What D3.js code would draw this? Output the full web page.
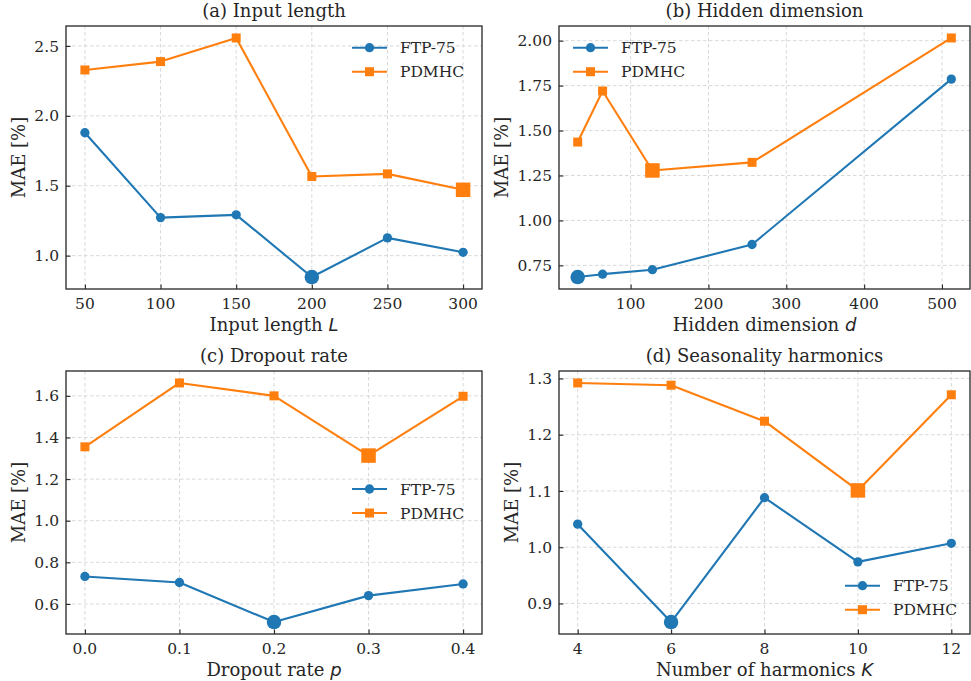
<!DOCTYPE html>
<html>
<head>
<meta charset="utf-8">
<script src="https://cdn.jsdelivr.net/npm/d3@7"></script>
<style>
  body { margin: 0; background: #fff; }
  svg { display: block; }
</style>
</head>
<body>
<div id="chart"></div>
<script>
'use strict';

// series
const seriesNames = ["FTP-75", "PDMHC"];
const seriesColors = ["#1f77b4", "#ff7f0e"];

// (a) input length
const inputLength = [50, 100, 150, 200, 250, 300];
const inputFtp = [1.879, 1.272, 1.292, 0.847, 1.127, 1.024];
const inputPdm = [2.328, 2.388, 2.557, 1.566, 1.585, 1.471];
const inputYTicks = [1.0, 1.5, 2.0, 2.5];

// (b) hidden dimension
const hiddenDim = [32, 64, 128, 256, 512];
const hiddenFtp = [0.685, 0.701, 0.726, 0.866, 1.786];
const hiddenPdm = [1.436, 1.720, 1.278, 1.323, 2.015];
const hiddenXTicks = [100, 200, 300, 400, 500];
const hiddenYTicks = [0.75, 1.00, 1.25, 1.50, 1.75, 2.00];

// (c) dropout rate
const dropout = [0.0, 0.1, 0.2, 0.3, 0.4];
const dropFtp = [0.732, 0.703, 0.513, 0.640, 0.696];
const dropPdm = [1.355, 1.662, 1.600, 1.313, 1.598];
const dropYTicks = [0.6, 0.8, 1.0, 1.2, 1.4, 1.6];

// (d) seasonality harmonics
const harmonics = [4, 6, 8, 10, 12];
const harmFtp = [1.041, 0.867, 1.088, 0.974, 1.007];
const harmPdm = [1.292, 1.288, 1.224, 1.101, 1.271];
const harmYTicks = [0.9, 1.0, 1.1, 1.2, 1.3];

const W = 971, H = 681;
const serif = "'DejaVu Serif', serif";
const mathFont = "'DejaVu Sans', sans-serif";

const panels = [
    {title: "(a) Input length", xlab: "Input length ", xvar: "L",
     x: inputLength, ys: [inputFtp, inputPdm], xticks: inputLength, xfmt: d3.format("d"),
     yticks: inputYTicks, yfmt: d3.format(".1f"),
     box: {left: 66, right: 482, top: 26, bottom: 289},
     legend: {from: "right", dx: 130, y: 21.7}},
    {title: "(b) Hidden dimension", xlab: "Hidden dimension ", xvar: "d",
     x: hiddenDim, ys: [hiddenFtp, hiddenPdm], xticks: hiddenXTicks, xfmt: d3.format("d"),
     yticks: hiddenYTicks, yfmt: d3.format(".2f"),
     box: {left: 559, right: 970, top: 26, bottom: 289},
     legend: {from: "left", dx: 14, y: 21.7}},
    {title: "(c) Dropout rate", xlab: "Dropout rate ", xvar: "p",
     x: dropout, ys: [dropFtp, dropPdm], xticks: dropout, xfmt: d3.format(".1f"),
     yticks: dropYTicks, yfmt: d3.format(".1f"),
     box: {left: 66, right: 482, top: 371, bottom: 634},
     legend: {from: "right", dx: 130, y: 118}},
    {title: "(d) Seasonality harmonics", xlab: "Number of harmonics ", xvar: "K",
     x: harmonics, ys: [harmFtp, harmPdm], xticks: harmonics, xfmt: d3.format("d"),
     yticks: harmYTicks, yfmt: d3.format(".1f"),
     box: {left: 559, right: 970, top: 371, bottom: 634},
     legend: {from: "right", dx: 125, y: 214.7}}
];

const svg = d3.select("#chart").append("svg")
    .attr("width", W)
    .attr("height", H);

function padded(vals) {
    const [lo, hi] = d3.extent(vals);
    const p = (hi - lo) * 0.05;
    return [lo - p, hi + p];
}

function marker(g, shape, cx, cy, size, color) {
    if (shape === "circle") {
        g.append("circle")
            .attr("cx", cx).attr("cy", cy).attr("r", size / 2)
            .attr("fill", color);
    } else {
        g.append("rect")
            .attr("x", cx - size / 2).attr("y", cy - size / 2)
            .attr("width", size).attr("height", size)
            .attr("fill", color);
    }
}

panels.forEach(p => {
    const b = p.box;
    const x = d3.scaleLinear().domain(padded(p.x)).range([b.left, b.right]);
    const y = d3.scaleLinear().domain(padded(p.ys.flat())).range([b.bottom, b.top]);
    const g = svg.append("g");

    // grid
    const grid = g.append("g")
        .attr("stroke", "#d4d4d4")
        .attr("stroke-width", 0.9)
        .attr("stroke-dasharray", "3.5,2.5");
    grid.selectAll(".gx").data(p.xticks).join("line")
        .attr("x1", d => x(d)).attr("x2", d => x(d))
        .attr("y1", b.top).attr("y2", b.bottom);
    grid.selectAll(".gy").data(p.yticks).join("line")
        .attr("y1", d => y(d)).attr("y2", d => y(d))
        .attr("x1", b.left).attr("x2", b.right);

    // axes (ticks pointing inward)
    const xAxis = g.append("g")
        .attr("transform", `translate(0,${b.bottom})`)
        .call(d3.axisTop(x).tickValues(p.xticks).tickFormat("").tickSize(4.5).tickSizeOuter(0));
    const yAxis = g.append("g")
        .attr("transform", `translate(${b.left},0)`)
        .call(d3.axisRight(y).tickValues(p.yticks).tickFormat("").tickSize(4.5).tickSizeOuter(0));
    [xAxis, yAxis].forEach(a => {
        a.select(".domain").remove();
        a.selectAll("line").attr("stroke", "#262626").attr("stroke-width", 1.1);
    });

    // tick labels
    g.selectAll(".xt").data(p.xticks).join("text")
        .attr("x", d => x(d)).attr("y", b.bottom + 19.5)
        .attr("text-anchor", "middle")
        .attr("font-family", serif).attr("font-size", 15.5).attr("fill", "#262626")
        .text(p.xfmt);
    const yl = g.selectAll(".yt").data(p.yticks).join("text")
        .attr("x", b.left - 7).attr("y", d => y(d))
        .attr("dy", "0.36em")
        .attr("text-anchor", "end")
        .attr("font-family", serif).attr("font-size", 15.5).attr("fill", "#262626")
        .text(p.yfmt);
    let maxW = 0;
    yl.each(function () { maxW = Math.max(maxW, this.getComputedTextLength()); });

    // series lines and markers
    p.ys.forEach((vals, i) => {
        const pts = p.x.map((xv, j) => [xv, vals[j]]);
        g.append("path")
            .datum(pts)
            .attr("fill", "none")
            .attr("stroke", seriesColors[i])
            .attr("stroke-width", 2.1)
            .attr("stroke-linejoin", "round")
            .attr("d", d3.line().x(d => x(d[0])).y(d => y(d[1])));
        const shape = i === 0 ? "circle" : "rect";
        pts.forEach(d => marker(g, shape, x(d[0]), y(d[1]), i === 0 ? 9.3 : 9, seriesColors[i]));
    });
    // best (lowest) value of each series, drawn bigger
    p.ys.forEach((vals, i) => {
        const k = d3.minIndex(vals);
        marker(g, i === 0 ? "circle" : "rect", x(p.x[k]), y(vals[k]), 14.5, seriesColors[i]);
    });

    // frame
    g.append("rect")
        .attr("x", b.left).attr("y", b.top)
        .attr("width", b.right - b.left).attr("height", b.bottom - b.top)
        .attr("fill", "none").attr("stroke", "#262626").attr("stroke-width", 1.3);

    // title
    g.append("text")
        .attr("x", (b.left + b.right) / 2).attr("y", b.top - 9)
        .attr("text-anchor", "middle")
        .attr("font-family", serif).attr("font-size", 18).attr("fill", "#262626")
        .text(p.title);

    // x label
    const xl = g.append("text")
        .attr("x", (b.left + b.right) / 2).attr("y", b.bottom + 42)
        .attr("text-anchor", "middle")
        .attr("font-family", serif).attr("font-size", 18).attr("fill", "#262626");
    xl.append("tspan").text(p.xlab);
    xl.append("tspan").attr("font-family", mathFont).attr("font-style", "italic").text(p.xvar);

    // y label
    const lx = b.left - 7 - maxW - 9;
    g.append("text")
        .attr("transform", `translate(${lx},${(b.top + b.bottom) / 2}) rotate(-90)`)
        .attr("text-anchor", "middle")
        .attr("font-family", serif).attr("font-size", 18).attr("fill", "#262626")
        .text("MAE [%]");

    // legend (no frame)
    const lg = g.append("g");
    const lx0 = p.legend.from === "right" ? b.right - p.legend.dx : b.left + p.legend.dx;
    seriesNames.forEach((name, i) => {
        const ly = b.top + p.legend.y + i * 24;
        lg.append("line")
            .attr("x1", lx0).attr("x2", lx0 + 35)
            .attr("y1", ly).attr("y2", ly)
            .attr("stroke", seriesColors[i]).attr("stroke-width", 2.1);
        marker(lg, i === 0 ? "circle" : "rect", lx0 + 17.5, ly, i === 0 ? 9.3 : 9, seriesColors[i]);
        lg.append("text")
            .attr("x", lx0 + 48).attr("y", ly).attr("dy", "0.36em")
            .attr("font-family", serif).attr("font-size", 15.5).attr("fill", "#262626")
            .text(name);
    });
});
</script>
</body>
</html>
